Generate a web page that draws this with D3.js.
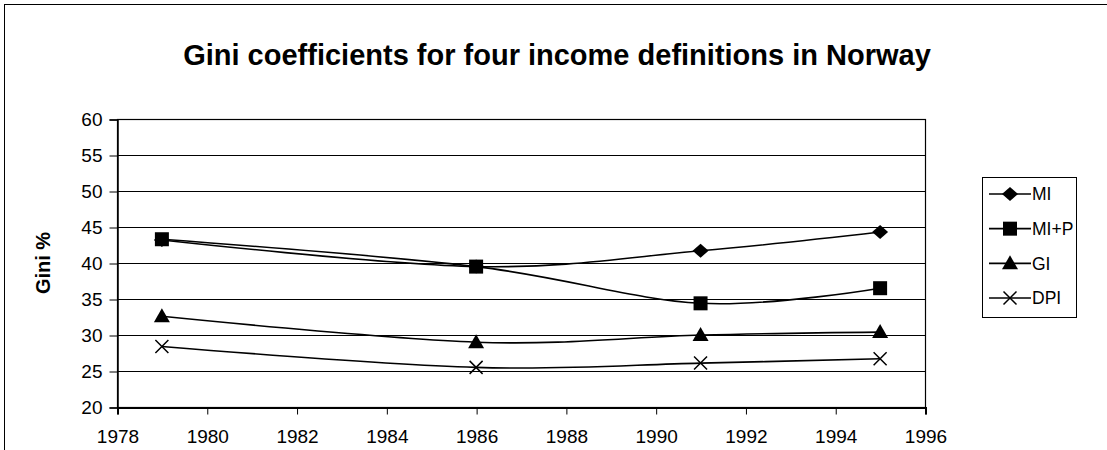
<!DOCTYPE html>
<html>
<head>
<meta charset="utf-8">
<script src="https://cdn.jsdelivr.net/npm/d3@7"></script>
<style>
  html, body { margin: 0; padding: 0; background: #fff; }
  svg { display: block; font-family: "Liberation Sans", Arial, sans-serif; }
</style>
</head>
<body>
<svg id="chart" width="1107" height="450"></svg>
<script>
const years = [1979, 1986, 1991, 1995];
const seriesNames = ["MI", "MI+P", "GI", "DPI"];
const miValues = [43.2, 39.5, 41.7, 44.3];
const mipValues = [43.3, 39.5, 34.4, 36.5];
const giValues = [32.6, 29.0, 30.0, 30.4];
const dpiValues = [28.4, 25.5, 26.1, 26.7];
const xTicks = [1978, 1980, 1982, 1984, 1986, 1988, 1990, 1992, 1994, 1996];
const yTicks = [20, 25, 30, 35, 40, 45, 50, 55, 60];
const markerTypes = ["diamond", "square", "triangle", "x"];
const titleText = "Gini coefficients for four income definitions in Norway";
const yTitle = "Gini %";

const series = [miValues, mipValues, giValues, dpiValues].map((vals, i) => ({
  name: seriesNames[i], marker: markerTypes[i],
  points: years.map((y, j) => ({ x: y, y: vals[j] }))
}));

const svg = d3.select("#chart");
const plot = { left: 117, top: 119, right: 925, bottom: 407 };
const FONT = '"Liberation Sans", Arial, sans-serif';

// chart area border
svg.append("rect").attr("x", 4.5).attr("y", 4.5).attr("width", 1120).attr("height", 470)
  .attr("fill", "none").attr("stroke", "#000").attr("stroke-width", 1);

const x = d3.scaleLinear().domain([1978, 1996]).range([plot.left, plot.right]);
const y = d3.scaleLinear().domain([20, 60]).range([plot.bottom, plot.top]);

// gridlines
svg.append("g").selectAll("line").data(yTicks).join("line")
  .attr("x1", plot.left).attr("x2", plot.right)
  .attr("y1", d => Math.round(y(d)) + 0.5).attr("y2", d => Math.round(y(d)) + 0.5)
  .attr("stroke", "#000").attr("stroke-width", 1);

// plot border
svg.append("rect").attr("x", plot.left + 0.5).attr("y", plot.top + 0.5)
  .attr("width", plot.right - plot.left).attr("height", plot.bottom - plot.top)
  .attr("fill", "none").attr("stroke", "#000").attr("stroke-width", 1.2);

// axes
const yAxis = d3.axisLeft(y).tickValues(yTicks).tickSize(8).tickPadding(7).tickFormat(d3.format("d"));
const gy = svg.append("g").attr("transform", `translate(${plot.left + 0.5},0.5)`).call(yAxis);
const xAxis = d3.axisBottom(x).tickValues(xTicks).tickSize(7).tickPadding(15).tickFormat(d3.format("d"));
const gx = svg.append("g").attr("transform", `translate(0.5,${plot.bottom + 0.5})`).call(xAxis);
[gx, gy].forEach(g => {
  g.select(".domain").attr("stroke", "#000").attr("stroke-width", 1.5);
  g.selectAll(".tick line").attr("stroke", "#000");
  g.selectAll(".tick text").attr("fill", "#000").attr("font-size", 19).attr("font-family", FONT);
});
gx.select(".domain").attr("stroke-width", 2);

// lines
const line = d3.line().x(d => x(d.x)).y(d => y(d.y)).curve(d3.curveCardinal.tension(0));
svg.append("g").selectAll("path").data(series).join("path")
  .attr("d", d => line(d.points)).attr("fill", "none").attr("stroke", "#000").attr("stroke-width", 1.6);

function drawMarker(g, type, cx, cy) {
  if (type === "diamond") {
    g.append("path").attr("d", `M${cx},${cy - 7}L${cx + 8},${cy}L${cx},${cy + 7}L${cx - 8},${cy}Z`).attr("fill", "#000");
  } else if (type === "square") {
    g.append("rect").attr("x", cx - 7).attr("y", cy - 7).attr("width", 14).attr("height", 14).attr("fill", "#000");
  } else if (type === "triangle") {
    g.append("path").attr("d", `M${cx},${cy - 8}L${cx + 8},${cy + 6}L${cx - 8},${cy + 6}Z`).attr("fill", "#000");
  } else {
    g.append("path").attr("d", `M${cx - 6.5},${cy - 6.5}L${cx + 6.5},${cy + 6.5}M${cx - 6.5},${cy + 6.5}L${cx + 6.5},${cy - 6.5}`)
      .attr("stroke", "#000").attr("stroke-width", 1.5);
  }
}

const mg = svg.append("g");
series.forEach(s => s.points.forEach(p => drawMarker(mg, s.marker, x(p.x), y(p.y))));

// title
svg.append("text").attr("x", 557).attr("y", 65).attr("text-anchor", "middle")
  .attr("font-size", 29).attr("font-weight", "bold").text(titleText);

// y title
svg.append("text").attr("transform", "translate(50,263) rotate(-90)").attr("text-anchor", "middle")
  .attr("font-size", 20).attr("font-weight", "bold").text(yTitle);

// legend
const lg = svg.append("g");
lg.append("rect").attr("x", 982.5).attr("y", 177.5).attr("width", 94).attr("height", 140)
  .attr("fill", "#fff").attr("stroke", "#000").attr("stroke-width", 1);
const ly = d3.scalePoint().domain(seriesNames).range([194, 298]);
series.forEach(s => {
  const cy = ly(s.name);
  lg.append("line").attr("x1", 989).attr("x2", 1031).attr("y1", cy).attr("y2", cy).attr("stroke", "#000").attr("stroke-width", 1.6);
  drawMarker(lg, s.marker, 1010, cy);
  lg.append("text").attr("x", 1032).attr("y", cy).attr("dy", "0.36em").attr("font-size", 17.5).text(s.name);
});
</script>
</body>
</html>
